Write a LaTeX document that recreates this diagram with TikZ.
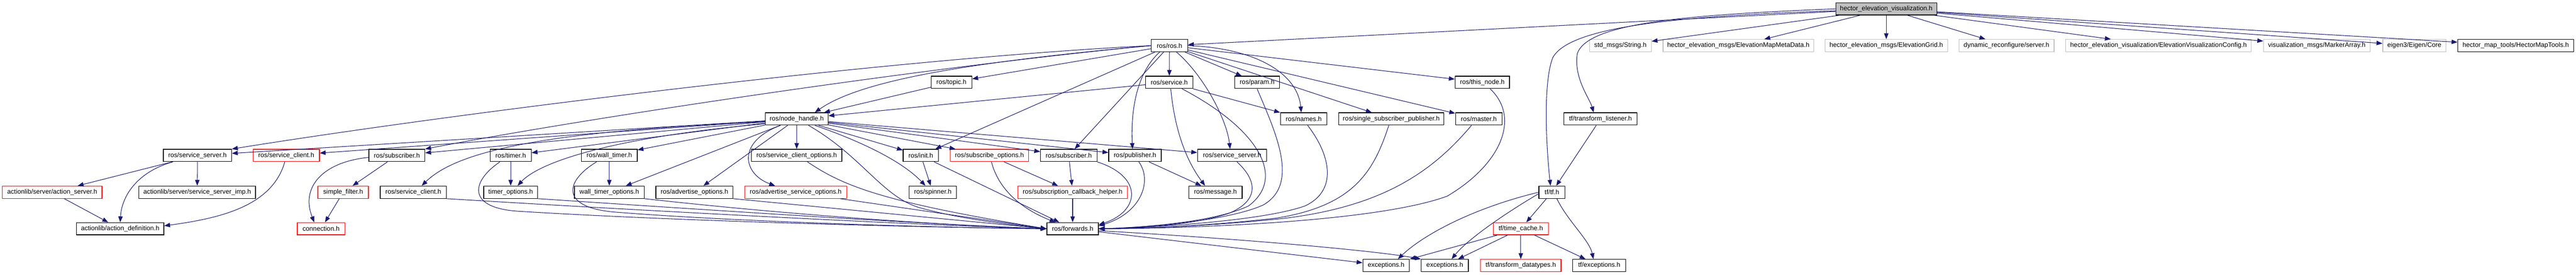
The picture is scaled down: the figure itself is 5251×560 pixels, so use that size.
\documentclass[tikz,border=0pt]{standalone}
\usepackage{fontspec}
\setmainfont{Liberation Sans}
\usetikzlibrary{arrows.meta}
\definecolor{edgeblue}{HTML}{191970}
\definecolor{extgray}{HTML}{BFBFBF}
\newcommand{\nodefont}{\fontsize{13.3}{15}\selectfont}
\tikzset{
  box/.style={draw=black, line width=1.3pt, fill=white, minimum height=25pt, inner sep=0pt, font=\nodefont},
  redbox/.style={box, draw=red},
  extbox/.style={box, draw=extgray},
  topbox/.style={box, fill=extgray},
  dep/.style={draw=edgeblue, line width=1.1pt, -{Triangle[length=12pt,width=9pt]}},
}
\begin{document}
\begin{tikzpicture}[x=1pt,y=-1pt]
\useasboundingbox (0,0) rectangle (5251,560);
% row 0
\node[topbox, minimum width=206pt] (H) at (3845,18) {hector\_elevation\_visualization.h};
% row 1
\node[box, minimum width=74pt] (ros) at (2384,93) {ros/ros.h};
\node[extbox, minimum width=126pt] (String) at (3303,93) {std\_msgs/String.h};
\node[extbox, minimum width=307pt] (Meta) at (3543.5,93) {hector\_elevation\_msgs/ElevationMapMetaData.h};
\node[extbox, minimum width=250pt] (Grid) at (3845,93) {hector\_elevation\_msgs/ElevationGrid.h};
\node[extbox, minimum width=194pt] (dyn) at (4090,93) {dynamic\_reconfigure/server.h};
\node[extbox, minimum width=378pt] (Config) at (4400,93) {hector\_elevation\_visualization/ElevationVisualizationConfig.h};
\node[extbox, minimum width=217pt] (Marker) at (4722.5,93) {visualization\_msgs/MarkerArray.h};
\node[extbox, minimum width=129pt] (Eigen) at (4921.5,93) {eigen3/Eigen/Core};
\node[box, minimum width=236pt] (HMT) at (5128,93) {hector\_map\_tools/HectorMapTools.h};
% row 2
\node[box, minimum width=83pt] (topic) at (1939.5,168) {ros/topic.h};
\node[box, minimum width=97pt] (service) at (2383.5,168) {ros/service.h};
\node[box, minimum width=91pt] (param) at (2562.5,168) {ros/param.h};
\node[box, minimum width=111pt] (thisnode) at (3021.5,168) {ros/this\_node.h};
% row 3
\node[box, minimum width=128pt] (nh) at (1624,242.5) {ros/node\_handle.h};
\node[box, minimum width=95pt] (names) at (2657.5,242.5) {ros/names.h};
\node[box, minimum width=214pt] (ssp) at (2836,242.5) {ros/single\_subscriber\_publisher.h};
\node[box, minimum width=95pt] (master) at (3014.5,242.5) {ros/master.h};
\node[box, minimum width=149pt] (tl) at (3262.5,242.5) {tf/transform\_listener.h};
% row 4
\node[box, minimum width=139pt] (ssL) at (402.5,317) {ros/service\_server.h};
\node[redbox, minimum width=135pt] (scL) at (583.5,317) {ros/service\_client.h};
\node[box, minimum width=114pt] (subL) at (809,317) {ros/subscriber.h};
\node[box, minimum width=84pt] (timer) at (1041,317) {ros/timer.h};
\node[box, minimum width=114pt] (wtimer) at (1242,317) {ros/wall\_timer.h};
\node[box, minimum width=184pt] (sco) at (1624,317) {ros/service\_client\_options.h};
\node[box, minimum width=72pt] (init) at (1877,317) {ros/init.h};
\node[redbox, minimum width=160pt] (subopt) at (2017,317) {ros/subscribe\_options.h};
\node[box, minimum width=115pt] (sub) at (2178.5,317) {ros/subscriber.h};
\node[box, minimum width=107pt] (pub) at (2313.5,317) {ros/publisher.h};
\node[box, minimum width=141pt] (ss2) at (2511.5,317) {ros/service\_server.h};
% row 5
\node[redbox, minimum width=203pt] (as) at (106.5,392) {actionlib/server/action\_server.h};
\node[box, minimum width=238pt] (ssimp) at (402,392) {actionlib/server/service\_server\_imp.h};
\node[redbox, minimum width=103pt] (sf) at (699.5,392) {simple\_filter.h};
\node[box, minimum width=135pt] (sc) at (842.5,392) {ros/service\_client.h};
\node[box, minimum width=110pt] (to) at (1041,392) {timer\_options.h};
\node[box, minimum width=142pt] (wto) at (1242,392) {wall\_timer\_options.h};
\node[box, minimum width=157pt] (ao) at (1415.5,392) {ros/advertise\_options.h};
\node[redbox, minimum width=208pt] (aso) at (1622,392) {ros/advertise\_service\_options.h};
\node[box, minimum width=97pt] (spin) at (1901.5,392) {ros/spinner.h};
\node[redbox, minimum width=223pt] (sch) at (2186.5,392) {ros/subscription\_callback\_helper.h};
\node[box, minimum width=109pt] (msg) at (2477.5,392) {ros/message.h};
\node[box, minimum width=53pt] (tf) at (3163.5,392) {tf/tf.h};
% row 6
\node[box, minimum width=178pt] (ad) at (245,466.5) {actionlib/action\_definition.h};
\node[redbox, minimum width=97pt] (conn) at (654.5,466.5) {connection.h};
\node[box, minimum width=105pt] (fwd) at (2186.5,466.5) {ros/forwards.h};
\node[redbox, minimum width=112pt] (tc) at (3100,466.5) {tf/time\_cache.h};
% row 7
\node[box, minimum width=95pt] (ex1) at (2825.5,541.5) {exceptions.h};
\node[box, minimum width=96pt] (ex2) at (2945,541.5) {exceptions.h};
\node[redbox, minimum width=164pt] (td) at (3100,541.5) {tf/transform\_datatypes.h};
\node[box, minimum width=108pt] (tfex) at (3260,541.5) {tf/exceptions.h};

% ---- edges from hector_elevation_visualization.h
\draw[dep] (H) -- (ros);
\draw[dep] (H.west) .. controls (3450,30) and (3235,45) .. (3215,110) .. controls (3208,160) and (3240,200) .. ([xshift=-14pt]tl.north);
\draw[dep] ([yshift=-4pt]H.west) .. controls (3450,32) and (3200,50) .. (3165,118) .. controls (3145,170) and (3152,300) .. ([xshift=-3pt]tf.north);
\draw[dep] (H) -- (String);
\draw[dep] (H) -- (Meta);
\draw[dep] (H) -- (Grid);
\draw[dep] (H) -- (dyn);
\draw[dep] (H) -- (Config);
\draw[dep] (H) -- (Marker);
\draw[dep] (H) -- (Eigen);
\draw[dep] (H) -- (HMT);

% ---- edges from ros/ros.h
\draw[dep] (ros.west) .. controls (1800,120) and (900,235) .. (ssL.north east);
\draw[dep] (ros.west) .. controls (1900,135) and (1200,240) .. (subL.north east);
\draw[dep] (ros.west) .. controls (2000,125) and (1760,160) .. ([xshift=37pt]nh.north);
\draw[dep] (ros) -- (topic);
\draw[dep] (ros) -- (init);
\draw[dep] (ros) -- (sub);
\draw[dep] ([xshift=-20pt]ros.south) .. controls (2315,150) and (2305,230) .. ([xshift=-5pt]pub.north);
\draw[dep] (ros) -- (service);
\draw[dep] ([xshift=14pt]ros.south) .. controls (2450,150) and (2500,240) .. ([xshift=-4pt]ss2.north);
\draw[dep] (ros) -- (param);
\draw[dep] (ros.east) .. controls (2560,98) and (2645,150) .. ([xshift=-5pt]names.north);
\draw[dep] (ros) -- (ssp);
\draw[dep] (ros) -- (master);
\draw[dep] (ros) -- (thisnode);

% ---- row 2 sources
\draw[dep] (topic) -- (nh);
\draw[dep] (service) -- (nh);
\draw[dep] (service) -- (names);
\draw[dep] ([xshift=3pt]service.south) .. controls (2395,270) and (2420,330) .. ([xshift=-21pt]msg.north);
\draw[dep] ([xshift=26pt]service.south) .. controls (2560,260) and (2625,360) .. (2545,420) .. controls (2470,455) and (2320,464) .. (fwd.east);
\draw[dep] (param.south) .. controls (2600,270) and (2650,375) .. (2575,418) .. controls (2500,452) and (2320,465) .. (fwd.east);
\draw[dep] ([xshift=16pt]thisnode.south) .. controls (3100,240) and (3060,335) .. (2950,400) .. controls (2800,455) and (2400,466) .. (fwd.east);

% ---- row 3 sources
\draw[dep] ([xshift=8pt]names.south) .. controls (2715,320) and (2725,390) .. (2660,420) .. controls (2570,452) and (2330,465) .. (fwd.east);
\draw[dep] ([xshift=-5pt]ssp.south) .. controls (2800,350) and (2760,420) .. (2600,445) .. controls (2450,462) and (2320,466) .. (fwd.east);
\draw[dep] ([xshift=-15pt]master.south) .. controls (2920,350) and (2820,420) .. (2620,445) .. controls (2460,462) and (2320,466) .. (fwd.east);
\draw[dep] (tl) -- (tf);

% ---- edges from ros/node_handle.h
\draw[dep] (nh) -- (ssL);
\draw[dep] (nh) -- (scL);
\draw[dep] (nh) -- (subL);
\draw[dep] ([yshift=-6pt]nh.west) .. controls (1100,268) and (930,310) .. ([xshift=17pt]sc.north);
\draw[dep] (nh) -- (timer);
\draw[dep] ([yshift=-10pt]nh.west) .. controls (1250,280) and (1100,330) .. ([xshift=14pt]to.north);
\draw[dep] (nh) -- (wtimer);
\draw[dep] (nh) -- (wto);
\draw[dep] (nh) -- (ao);
\draw[dep] ([xshift=-33pt]nh.south) .. controls (1500,290) and (1515,355) .. ([xshift=-42pt]aso.north);
\draw[dep] (nh) -- (sco);
\draw[dep] ([xshift=24pt]nh.south) .. controls (1760,320) and (1800,405) .. (1880,425) .. controls (1960,447) and (2060,458) .. (fwd.west);
\draw[dep] ([xshift=37pt]nh.south) .. controls (1760,290) and (1840,330) .. ([xshift=-15pt]spin.north);
\draw[dep] (nh) -- (init);
\draw[dep] (nh) -- (subopt);
\draw[dep] (nh) -- (sub);
\draw[dep] (nh) -- (pub);
\draw[dep] (nh) -- (ss2);

% ---- left cluster
\draw[dep] (ssL) -- (as);
\draw[dep] (ssL) -- (ssimp);
\draw[dep] ([xshift=-50pt]ssL.south) .. controls (280,350) and (248,400) .. (ad.north);
\draw[dep] (as) -- (ad);
\draw[dep] ([xshift=-3pt]scL.south) .. controls (555,420) and (450,445) .. ([yshift=6pt]ad.east);
\draw[dep] (subL) -- (sf);
\draw[dep] ([yshift=-4pt]subL.west) .. controls (660,330) and (612,380) .. ([xshift=-14pt]conn.north);
\draw[dep] (sf) -- (conn);

% ---- into ros/forwards.h from the left
\draw[dep] (sc.south east) .. controls (1400,435) and (1900,460) .. (fwd.west);
\draw[dep] ([xshift=-22pt]timer.south) .. controls (960,370) and (950,425) .. (1060,431) .. controls (1400,452) and (1900,464) .. (fwd.west);
\draw[dep] (timer) -- (to);
\draw[dep] (to.south east) .. controls (1500,432) and (1900,458) .. (fwd.west);
\draw[dep] ([xshift=-26pt]wtimer.south) .. controls (1150,370) and (1140,425) .. (1260,433) .. controls (1500,452) and (1900,464) .. (fwd.west);
\draw[dep] (wtimer) -- (wto);
\draw[dep] (wto.south east) .. controls (1600,437) and (1900,458) .. (fwd.west);
\draw[dep] (ao.south east) -- (fwd.west);
\draw[dep] ([xshift=-14pt]aso.south east) -- (fwd.west);
\draw[dep] ([xshift=22pt]sco.south) .. controls (1720,380) and (1800,412) .. (fwd.west);
\draw[dep] (init) -- (fwd);
\draw[dep] (init) -- (spin);
\draw[dep] ([xshift=4pt]subopt.south) .. controls (2035,385) and (2080,425) .. ([xshift=-35pt]fwd.north);
\draw[dep] (subopt) -- (sch);
\draw[dep] (sub) -- (sch);
\draw[dep] (sub.south east) .. controls (2330,360) and (2325,430) .. ([yshift=8pt]fwd.east);
\draw[dep] ([xshift=8pt]pub.south) .. controls (2350,370) and (2325,435) .. ([yshift=6pt]fwd.east);
\draw[dep] (pub) -- (msg);
\draw[dep] ([xshift=10pt]ss2.south) .. controls (2565,370) and (2565,410) .. (2505,435) .. controls (2430,460) and (2310,466) .. (fwd.east);
\draw[dep] (sch) -- (fwd);

% ---- bottom
\draw[dep] (fwd) -- (ex1);
\draw[dep] ([yshift=-4pt]fwd.east) .. controls (2500,485) and (2800,510) .. (ex2.north west);
\draw[dep] (tf.west) .. controls (3000,425) and (2900,480) .. ([xshift=24pt]ex1.north);
\draw[dep] ([yshift=-3pt]tf.west) .. controls (3060,440) and (2990,490) .. ([xshift=14pt]ex2.north);
\draw[dep] (tf) -- (tc);
\draw[dep] ([xshift=10pt]tf.south) .. controls (3195,450) and (3240,490) .. ([xshift=-12pt]tfex.north);
\draw[dep] (tc) -- (ex1);
\draw[dep] (tc) -- (ex2);
\draw[dep] (tc) -- (td);
\draw[dep] (tc) -- (tfex);
\end{tikzpicture}
\end{document}
